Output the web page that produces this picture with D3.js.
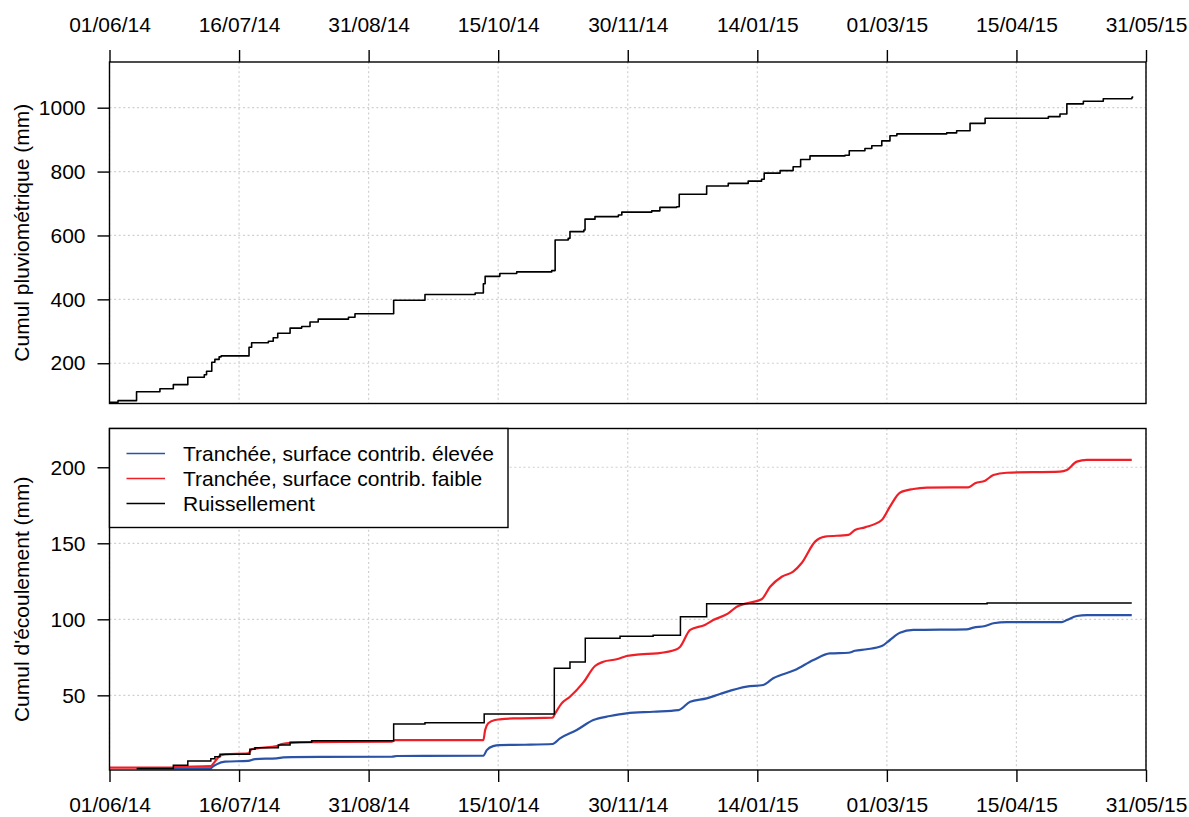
<!DOCTYPE html>
<html>
<head>
<meta charset="utf-8">
<script src="https://cdn.jsdelivr.net/npm/d3@7"></script>
<style>
  html, body { margin: 0; padding: 0; background: #fff; }
  svg { display: block; }
  text { font-family: "Liberation Sans", Arial, Helvetica, sans-serif; }
</style>
</head>
<body>
<script>
// ---- Axis ticks -------------------------------------------------------------
const tickDates = ["2014-06-01 00:00", "2014-07-16 12:00", "2014-08-31 00:00", "2014-10-15 12:00",
  "2014-11-30 00:00", "2015-01-14 12:00", "2015-03-01 00:00", "2015-04-15 12:00", "2015-05-31 00:00"];
const tickLabels = ["01/06/14", "16/07/14", "31/08/14", "15/10/14", "30/11/14", "14/01/15", "01/03/15", "15/04/15", "31/05/15"];
const rainTicks = [200, 400, 600, 800, 1000];
const flowTicks = [50, 100, 150, 200];

// ---- Cumulative rainfall (mm) -----------------------------------------------
const rainDates = ["2014-06-01 00:00", "2014-06-04 00:00", "2014-06-10 12:00", "2014-06-18 17:00", "2014-06-23 10:00",
  "2014-06-28 12:00", "2014-07-04 07:00", "2014-07-05 02:00", "2014-07-06 22:00", "2014-07-08 00:00", "2014-07-09 12:00",
  "2014-07-10 05:00", "2014-07-20 00:00", "2014-07-20 22:00", "2014-07-26 19:00", "2014-07-28 12:00", "2014-07-30 02:00",
  "2014-08-03 10:00", "2014-08-07 12:00", "2014-08-10 10:00", "2014-08-13 07:00", "2014-08-23 22:00", "2014-08-26 05:00",
  "2014-09-08 19:00", "2014-09-19 19:00", "2014-10-07 10:00", "2014-10-10 07:00", "2014-10-10 22:00", "2014-10-16 02:00",
  "2014-10-22 00:00", "2014-11-03 07:00", "2014-11-04 12:00", "2014-11-09 02:00", "2014-11-09 17:00", "2014-11-14 14:00",
  "2014-11-15 00:00", "2014-11-18 12:00", "2014-11-26 17:00", "2014-11-27 22:00", "2014-12-08 10:00", "2014-12-11 07:00",
  "2014-12-17 05:00", "2014-12-18 02:00", "2014-12-27 17:00", "2015-01-04 07:00", "2015-01-11 07:00", "2015-01-16 00:00",
  "2015-01-16 22:00", "2015-01-22 12:00", "2015-01-27 02:00", "2015-01-29 17:00", "2015-02-02 00:00", "2015-02-14 07:00",
  "2015-02-15 19:00", "2015-02-21 07:00", "2015-02-23 17:00", "2015-02-27 05:00", "2015-03-02 02:00", "2015-03-04 12:00",
  "2015-03-22 00:00", "2015-03-25 12:00", "2015-03-30 05:00", "2015-04-04 12:00", "2015-04-26 17:00", "2015-04-30 19:00",
  "2015-05-03 05:00", "2015-05-09 00:00", "2015-05-16 00:00", "2015-05-26 00:00", "2015-05-26 06:00"];
const rainMm = [78, 83, 111, 120, 133,
  156, 164, 175, 203, 212, 220,
  223, 250, 264, 269, 280, 294,
  310, 315, 329, 338, 344, 355,
  397, 415, 420, 449, 472, 481,
  486, 490, 586, 591, 612, 617,
  651, 659, 664, 673, 677, 688,
  690, 729, 755, 763, 770, 776,
  795, 803, 815, 838, 849, 851,
  865, 872, 881, 896, 912, 918,
  921, 928, 951, 967, 972, 980,
  1012, 1020, 1028, 1031, 1036];

// ---- Cumulative flow (mm) ---------------------------------------------------
// Trench, high contributing surface
const highDates = ["2014-06-10 13:00", "2014-07-06 14:00", "2014-07-06 22:00", "2014-07-08 14:00", "2014-07-11 14:00",
  "2014-07-19 17:00", "2014-07-22 02:00", "2014-07-29 17:00", "2014-08-01 00:00", "2014-08-04 00:00", "2014-09-08 02:00",
  "2014-09-09 22:00", "2014-10-10 07:00", "2014-10-11 12:00", "2014-10-13 17:00", "2014-10-16 02:00", "2014-10-24 22:00",
  "2014-11-03 14:00", "2014-11-06 05:00", "2014-11-12 02:00", "2014-11-17 22:00", "2014-11-23 19:00", "2014-11-29 14:00",
  "2014-12-09 00:00", "2014-12-17 19:00", "2014-12-21 22:00", "2014-12-27 17:00", "2015-01-01 10:00", "2015-01-10 19:00",
  "2015-01-16 14:00", "2015-01-20 02:00", "2015-01-27 17:00", "2015-02-03 05:00", "2015-02-09 00:00", "2015-02-15 12:00",
  "2015-02-17 19:00", "2015-02-21 22:00", "2015-02-27 05:00", "2015-03-02 02:00", "2015-03-05 14:00", "2015-03-10 07:00",
  "2015-03-29 00:00", "2015-03-31 10:00", "2015-04-04 12:00", "2015-04-07 10:00", "2015-04-12 02:00", "2015-05-01 10:00",
  "2015-05-03 05:00", "2015-05-06 17:00", "2015-05-10 05:00", "2015-05-26 00:00"];
const highMm = [1.95, 1.95, 2.6, 4.6, 6.4,
  6.9, 8.1, 8.6, 9.2, 9.4, 9.6,
  10.1, 10.3, 14.0, 16.6, 17.3, 17.5,
  18.0, 21.7, 27.2, 33.8, 36.4, 38.2,
  39.2, 40.3, 45.8, 48.0, 50.9, 55.7,
  56.8, 61.2, 66.6, 73.2, 77.6, 78.0,
  79.3, 80.3, 82.4, 86.4, 91.2, 93.0,
  93.4, 94.5, 95.6, 97.4, 98.2, 98.2,
  99.5, 102.2, 102.8, 102.8];

// Trench, low contributing surface
const lowDates = ["2014-06-01 00:00", "2014-06-23 10:00", "2014-06-24 00:00", "2014-07-06 14:00", "2014-07-07 12:00",
  "2014-07-08 14:00", "2014-07-09 19:00", "2014-07-11 14:00", "2014-07-19 17:00", "2014-07-20 22:00", "2014-07-23 07:00",
  "2014-07-29 17:00", "2014-07-31 12:00", "2014-08-04 00:00", "2014-08-11 00:00", "2014-09-08 02:00", "2014-09-09 07:00",
  "2014-10-10 07:00", "2014-10-10 22:00", "2014-10-12 00:00", "2014-10-14 10:00", "2014-10-16 02:00", "2014-10-20 19:00",
  "2014-11-03 14:00", "2014-11-04 12:00", "2014-11-06 19:00", "2014-11-09 17:00", "2014-11-14 10:00", "2014-11-18 12:00",
  "2014-11-21 10:00", "2014-11-26 02:00", "2014-11-29 14:00", "2014-12-04 07:00", "2014-12-10 05:00", "2014-12-17 05:00",
  "2014-12-18 10:00", "2014-12-21 22:00", "2014-12-27 02:00", "2014-12-30 00:00", "2015-01-04 07:00", "2015-01-07 07:00",
  "2015-01-10 19:00", "2015-01-16 00:00", "2015-01-19 00:00", "2015-01-23 02:00", "2015-01-27 02:00", "2015-01-30 02:00",
  "2015-02-03 19:00", "2015-02-07 07:00", "2015-02-15 12:00", "2015-02-17 19:00", "2015-02-21 07:00", "2015-02-27 05:00",
  "2015-03-02 02:00", "2015-03-05 14:00", "2015-03-10 07:00", "2015-03-15 00:00", "2015-03-29 14:00", "2015-04-01 00:00",
  "2015-04-04 12:00", "2015-04-07 10:00", "2015-04-12 02:00", "2015-04-30 19:00", "2015-05-03 05:00", "2015-05-06 17:00",
  "2015-05-10 05:00", "2015-05-26 00:00"];
const lowMm = [2.4, 2.4, 3.0, 3.4, 5.2,
  7.8, 10.3, 11.2, 11.8, 14.5, 15.3,
  16.6, 17.9, 18.8, 19.2, 19.5, 20.6,
  20.6, 27.2, 31.6, 33.8, 34.2, 34.8,
  35.3, 38.1, 44.7, 49.1, 58.5, 69.3,
  72.1, 73.7, 75.9, 77.0, 77.6, 80.3,
  82.0, 93.0, 96.3, 99.5, 103.9, 108.3,
  110.5, 113.2, 121.4, 128.0, 131.3, 137.0,
  151.1, 154.4, 155.5, 158.8, 160.5, 165.3,
  174.1, 183.3, 185.7, 186.6, 186.8, 189.5,
  191.2, 194.9, 196.4, 197.1, 198.2, 203.7,
  204.8, 204.8];

// Surface runoff
const runoffDates = ["2014-06-10 13:00", "2014-06-23 10:00", "2014-06-28 12:00", "2014-07-06 14:00", "2014-07-08 00:00",
  "2014-07-09 19:00", "2014-07-20 07:00", "2014-07-22 02:00", "2014-07-30 07:00", "2014-08-03 10:00", "2014-08-11 00:00",
  "2014-09-08 19:00", "2014-09-19 19:00", "2014-10-10 14:00", "2014-11-04 05:00", "2014-11-09 17:00", "2014-11-15 02:00",
  "2014-11-27 07:00", "2014-12-08 22:00", "2014-12-18 12:00", "2014-12-27 17:00", "2015-04-05 05:00", "2015-05-26 00:00"];
const runoffMm = [1.95, 4.1, 6.9, 8.3, 9.6,
  11.2, 14.5, 15.5, 17.3, 19.2, 20.1,
  31.1, 32.0, 37.7, 67.8, 71.9, 87.5,
  88.8, 89.5, 101.7, 110.3, 110.7, 110.7];

const legendLabels = ["Tranchée, surface contrib. élevée", "Tranchée, surface contrib. faible", "Ruissellement"];
const seriesColors = ["#2a52a6", "#ee1f27", "#000000"];

// ---- Drawing ----------------------------------------------------------------
const W = 1189, H = 817;
const FONT = 21;
const parse = d3.timeParse("%Y-%m-%d %H:%M");
const zip = (ds, vs) => ds.map((d, i) => ({ date: parse(d), value: vs[i] }));

const svg = d3.select("body").append("svg").attr("width", W).attr("height", H);

const x = d3.scaleTime()
  .domain([parse("2014-06-01 00:00"), parse("2015-05-31 00:00")])
  .range([109.5, 1146]);
const xTicks = tickDates.map(parse);

const topPanel = { top: 62, bottom: 403.5 };
const botPanel = { top: 428.5, bottom: 770 };

const yRain = d3.scaleLinear().domain([74, 1143]).range([topPanel.bottom, topPanel.top]);
const yFlow = d3.scaleLinear().domain([0.9, 225.5]).range([botPanel.bottom, botPanel.top]);

function grid(y, yt, p) {
  const g = svg.append("g")
    .attr("stroke", "#d0d0d0").attr("stroke-width", 1.2)
    .attr("stroke-dasharray", "2,2.6").attr("fill", "none");
  g.selectAll("line.v").data(xTicks).join("line").attr("class", "v")
    .attr("x1", d => x(d)).attr("x2", d => x(d))
    .attr("y1", p.top).attr("y2", p.bottom);
  g.selectAll("line.h").data(yt).join("line").attr("class", "h")
    .attr("x1", x.range()[0]).attr("x2", x.range()[1])
    .attr("y1", d => y(d)).attr("y2", d => y(d));
}

function box(p) {
  svg.append("rect")
    .attr("x", x.range()[0]).attr("y", p.top)
    .attr("width", x.range()[1] - x.range()[0]).attr("height", p.bottom - p.top)
    .attr("fill", "none").attr("stroke", "#000").attr("stroke-width", 1.4);
}

function styleAxis(g) {
  g.select(".domain").remove();
  g.attr("font-size", FONT).attr("font-family", "'Liberation Sans', Arial, sans-serif");
  g.selectAll(".tick line").attr("stroke", "#000").attr("stroke-width", 1.4);
  g.selectAll(".tick text").attr("fill", "#000");
}

// Top panel: cumulative rainfall
grid(yRain, rainTicks, topPanel);

svg.append("path")
  .datum(zip(rainDates, rainMm))
  .attr("fill", "none").attr("stroke", "#000").attr("stroke-width", 1.6)
  .attr("stroke-linejoin", "round")
  .attr("d", d3.line().x(d => x(d.date)).y(d => yRain(d.value)).curve(d3.curveStepAfter));

box(topPanel);

svg.append("g").attr("transform", `translate(0,${topPanel.top})`)
  .call(d3.axisTop(x).tickValues(xTicks).tickFormat((d, i) => tickLabels[i]).tickSize(12).tickPadding(18))
  .call(styleAxis);

svg.append("g").attr("transform", `translate(${x.range()[0]},0)`)
  .call(d3.axisLeft(yRain).tickValues(rainTicks).tickFormat(d3.format("d")).tickSize(12).tickPadding(12))
  .call(styleAxis);

svg.append("text")
  .attr("transform", `translate(29,${(topPanel.top + topPanel.bottom) / 2}) rotate(-90)`)
  .attr("text-anchor", "middle").attr("font-size", FONT).attr("fill", "#000")
  .text("Cumul pluviométrique (mm)");

// Bottom panel: cumulative flow
grid(yFlow, flowTicks, botPanel);

const flowLine = d3.line().x(d => x(d.date)).y(d => yFlow(d.value));

svg.append("path")
  .datum(zip(highDates, highMm))
  .attr("fill", "none").attr("stroke", seriesColors[0]).attr("stroke-width", 2.2)
  .attr("stroke-linejoin", "round")
  .attr("d", flowLine.curve(d3.curveMonotoneX));

svg.append("path")
  .datum(zip(lowDates, lowMm))
  .attr("fill", "none").attr("stroke", seriesColors[1]).attr("stroke-width", 2.2)
  .attr("stroke-linejoin", "round")
  .attr("d", flowLine.curve(d3.curveMonotoneX));

svg.append("path")
  .datum(zip(runoffDates, runoffMm))
  .attr("fill", "none").attr("stroke", seriesColors[2]).attr("stroke-width", 1.5)
  .attr("d", flowLine.curve(d3.curveStepAfter));

box(botPanel);

svg.append("g").attr("transform", `translate(0,${botPanel.bottom})`)
  .call(d3.axisBottom(x).tickValues(xTicks).tickFormat((d, i) => tickLabels[i]).tickSize(12).tickPadding(15))
  .call(styleAxis);

svg.append("g").attr("transform", `translate(${x.range()[0]},0)`)
  .call(d3.axisLeft(yFlow).tickValues(flowTicks).tickFormat(d3.format("d")).tickSize(12).tickPadding(12))
  .call(styleAxis);

svg.append("text")
  .attr("transform", `translate(29,${(botPanel.top + botPanel.bottom) / 2}) rotate(-90)`)
  .attr("text-anchor", "middle").attr("font-size", FONT).attr("fill", "#000")
  .text("Cumul d'écoulement (mm)");

// Legend
const legend = svg.append("g");
legend.append("rect")
  .attr("x", x.range()[0]).attr("y", botPanel.top)
  .attr("width", 398.5).attr("height", 99)
  .attr("fill", "#fff").attr("stroke", "#000").attr("stroke-width", 1.4);
const items = legend.selectAll("g.item").data(legendLabels).join("g").attr("class", "item")
  .attr("transform", (d, i) => `translate(0,${453.5 + i * 25})`);
items.append("line")
  .attr("x1", 126.5).attr("x2", 165)
  .attr("stroke", (d, i) => seriesColors[i]).attr("stroke-width", 1.5);
items.append("text")
  .attr("x", 183).attr("dy", "0.35em")
  .attr("font-size", FONT).attr("fill", "#000")
  .text(d => d);
</script>
</body>
</html>
